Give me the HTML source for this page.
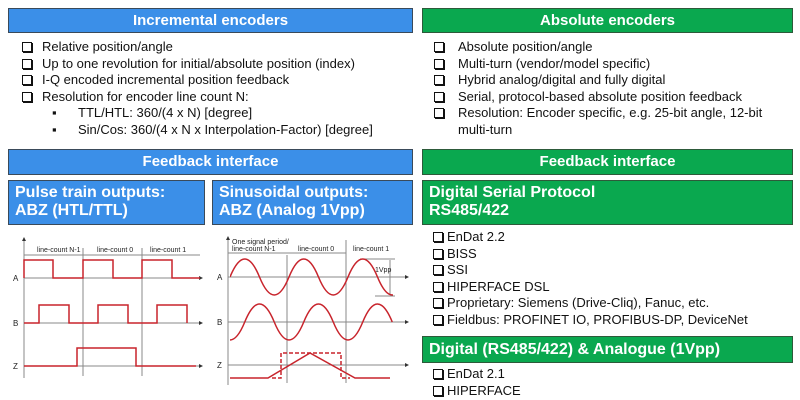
<!DOCTYPE html>
<html><head><meta charset="utf-8"><style>
body{margin:0;width:800px;height:400px;background:#fff;position:relative;overflow:hidden;font-family:"Liberation Sans",sans-serif;}
.h{position:absolute;color:#fff;font-weight:bold;font-size:15px;box-sizing:border-box;border:1px solid #3a4a5a;}
.b{background:#3b8fe8;}
.g{background:#0aa84f;border-color:#2d5a3a;}
.c{text-align:center;line-height:24px;}
.s{font-size:16px;line-height:18px;padding:3px 6px;}
.t{position:absolute;font-size:13px;color:#111;white-space:nowrap;line-height:16.5px;}
.t div{position:relative;}
.bx{display:inline-block;width:8px;height:8px;border:1px solid #111;margin-right:4px;vertical-align:-1px;box-shadow:1px 1px 0 #111;}
</style></head><body>
<div class="h b c" style="left:8px;top:8px;width:405px;height:25px">Incremental encoders</div>
<div class="h g c" style="left:422px;top:8px;width:371px;height:25px">Absolute encoders</div>
<div class="t" style="left:22px;top:39px">
<div><span class="bx"></span><span style="position:absolute;left:20px">Relative position/angle</span>&nbsp;</div>
<div><span class="bx"></span><span style="position:absolute;left:20px">Up to one revolution for initial/absolute position (index)</span>&nbsp;</div>
<div><span class="bx"></span><span style="position:absolute;left:20px">I-Q  encoded incremental position feedback</span>&nbsp;</div>
<div><span class="bx"></span><span style="position:absolute;left:20px">Resolution for encoder line count N:</span>&nbsp;</div>
<div style="left:30px">▪<span style="position:absolute;left:26px">TTL/HTL:  360/(4 x N) [degree]</span></div>
<div style="left:30px">▪<span style="position:absolute;left:26px">Sin/Cos: 360/(4 x N x Interpolation-Factor) [degree]</span></div>
</div>
<div class="t" style="left:434px;top:39px">
<div><span class="bx"></span><span style="position:absolute;left:24px">Absolute position/angle</span>&nbsp;</div>
<div><span class="bx"></span><span style="position:absolute;left:24px">Multi-turn (vendor/model specific)</span>&nbsp;</div>
<div><span class="bx"></span><span style="position:absolute;left:24px">Hybrid analog/digital and fully digital</span>&nbsp;</div>
<div><span class="bx"></span><span style="position:absolute;left:24px">Serial, protocol-based absolute position feedback</span>&nbsp;</div>
<div><span class="bx"></span><span style="position:absolute;left:24px">Resolution: Encoder specific, e.g. 25-bit angle, 12-bit</span>&nbsp;</div>
<div><span style="position:absolute;left:24px">multi-turn</span>&nbsp;</div>
</div>
<div class="h b c" style="left:8px;top:149px;width:405px;height:26px">Feedback interface</div>
<div class="h g c" style="left:422px;top:149px;width:371px;height:26px">Feedback interface</div>
<div class="h b s" style="left:8px;top:180px;width:197px;height:45px">Pulse train outputs:<br>ABZ (HTL/TTL)</div>
<div class="h b s" style="left:212px;top:180px;width:201px;height:45px">Sinusoidal outputs:<br>ABZ (Analog 1Vpp)</div>
<div class="h g s" style="left:422px;top:180px;width:371px;height:45px">Digital Serial Protocol<br>RS485/422</div>
<div class="h g s" style="left:422px;top:336px;width:371px;height:27px;line-height:19px">Digital (RS485/422) &amp; Analogue (1Vpp)</div>
<div class="t" style="left:433px;top:229px;font-size:13px">
<div><span class="bx" style="margin-right:4px"></span>EnDat 2.2</div>
<div><span class="bx" style="margin-right:4px"></span>BISS</div>
<div><span class="bx" style="margin-right:4px"></span>SSI</div>
<div><span class="bx" style="margin-right:4px"></span>HIPERFACE DSL</div>
<div><span class="bx" style="margin-right:4px"></span>Proprietary: Siemens (Drive-Cliq), Fanuc, etc.</div>
<div><span class="bx" style="margin-right:4px"></span>Fieldbus: PROFINET IO, PROFIBUS-DP, DeviceNet</div>
</div>
<div class="t" style="left:433px;top:366px;font-size:13px">
<div><span class="bx" style="margin-right:4px"></span>EnDat 2.1</div>
<div><span class="bx" style="margin-right:4px"></span>HIPERFACE</div>
</div>
<svg width="800" height="400" style="position:absolute;left:0;top:0" font-family="Liberation Sans, sans-serif">
<defs>
<marker id="ar" markerWidth="4" markerHeight="4" refX="3" refY="2" orient="auto"><path d="M0,0L4,2L0,4z" fill="#333"/></marker>
<clipPath id="cp"><rect x="230" y="230" width="163" height="130"/></clipPath>
</defs>
<g stroke="#888" stroke-width="1" fill="none">
<line x1="24" y1="378" x2="24" y2="238" marker-end="url(#ar)"/>
<line x1="83" y1="248" x2="83" y2="376"/><line x1="142" y1="248" x2="142" y2="376"/>
<line x1="24" y1="278" x2="202" y2="278" marker-end="url(#ar)"/>
<line x1="24" y1="323" x2="202" y2="323" marker-end="url(#ar)"/>
<line x1="24" y1="366" x2="202" y2="366" marker-end="url(#ar)"/>
<line x1="24" y1="255" x2="83" y2="255"/><line x1="83" y1="255" x2="142" y2="255"/><line x1="142" y1="255" x2="200" y2="255"/>
<line x1="228" y1="385" x2="228" y2="237" marker-end="url(#ar)"/>
<line x1="287" y1="255" x2="287" y2="383"/><line x1="346" y1="240" x2="346" y2="383"/>
<line x1="228" y1="277" x2="408" y2="277" marker-end="url(#ar)"/>
<line x1="228" y1="322" x2="408" y2="322" marker-end="url(#ar)"/>
<line x1="228" y1="365" x2="408" y2="365" marker-end="url(#ar)"/>
<line x1="228" y1="253" x2="287" y2="253"/><line x1="287" y1="253" x2="346" y2="253"/>
<line x1="360" y1="259" x2="395" y2="259"/><line x1="375" y1="296" x2="395" y2="296"/>
<line x1="390" y1="260" x2="390" y2="295"/>
</g>
<g fill="#222" font-size="7">
<text x="37" y="252">line-count N-1</text><text x="97" y="252">line-count 0</text><text x="150" y="252">line-count 1</text>
<text x="232" y="244">One signal period/</text><text x="232" y="251">line-count N-1</text>
<text x="298" y="251">line-count 0</text><text x="353" y="251">line-count 1</text>
<text x="375" y="272">1Vpp</text>
<g font-size="8"><text x="13" y="281">A</text><text x="13" y="326">B</text><text x="13" y="369">Z</text>
<text x="217" y="280">A</text><text x="217" y="325">B</text><text x="217" y="368">Z</text></g>
</g>
<g stroke="#c8242c" stroke-width="1.5" fill="none">
<path d="M24 278V260H53V278H83V260H113V278H142V260H172V278H200"/>
<path d="M24 323H39V305H69V323H98V305H128V323H157V305H187V323"/>
<path d="M24 366H77V348H136V366H196"/>
<path clip-path="url(#cp)" d="M230 277Q244.75 241 259.5 277T289 277T318.5 277T348 277T377.5 277T407 277"/>
<path clip-path="url(#cp)" d="M215.25 322Q230 358 244.75 322T274.25 322T303.75 322T333.25 322T362.75 322T392.25 322"/>
<path d="M230 378H268L310 353L355 378H390"/>
<path stroke-dasharray="4 2" d="M272 378H281V353H341V378H350"/>
</g>
</svg>
</body></html>
